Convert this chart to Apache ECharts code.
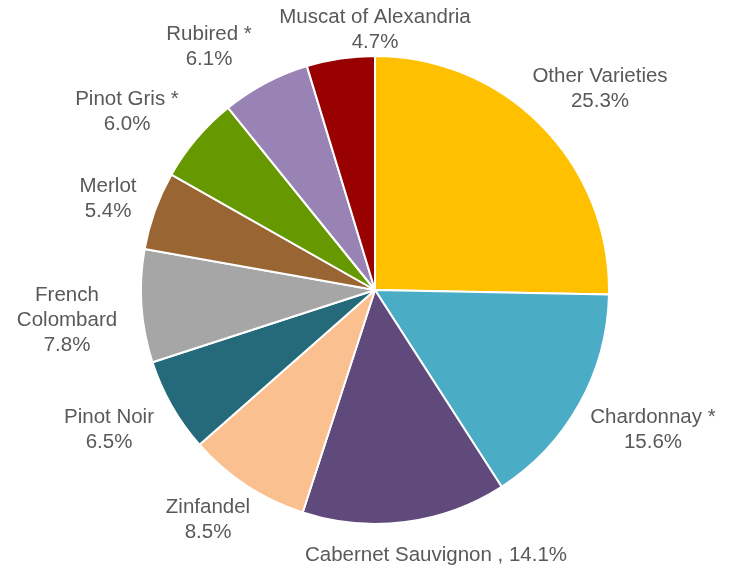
<!DOCTYPE html>
<html><head><meta charset="utf-8">
<script src="https://cdn.jsdelivr.net/npm/echarts@6/dist/echarts.min.js"></script>
<style>html,body{margin:0;padding:0;background:#fff}#c{width:731px;height:569px}</style>
</head><body><div id="c"></div>
<script>
const categories = ["Other Varieties","Chardonnay *","Cabernet Sauvignon","Zinfandel","Pinot Noir","French Colombard","Merlot","Pinot Gris *","Rubired *","Muscat of Alexandria"];
const values = [25.3,15.6,14.1,8.5,6.5,7.8,5.4,6.0,6.1,4.7];
const colors = ["#FFC000","#4BACC6","#604A7B","#FAC090","#256A7B","#A6A6A6","#996633","#669900","#9982B4","#990000"];
// label anchor centres (layout only)
const labelPos = [[600,89],[653,430],[436,555],[208,520],[109,430],[67,320],[108,199],[127,112],[209,47],[375,30]];

const chart = echarts.init(document.getElementById('c'));
chart.setOption({
  animation:false,
  series:[{
    type:'pie',
    center:[375,290],
    radius:234,
    startAngle:90,
    clockwise:true,
    data:categories.map((n,i)=>({name:n,value:values[i],itemStyle:{color:colors[i]}})),
    itemStyle:{borderColor:'#fff',borderWidth:2},
    label:{
      show:true,position:'outside',color:'#595959',fontFamily:'Liberation Sans, Arial, sans-serif',fontSize:20.5,lineHeight:25,align:'center',
      overflow:'none',width:400,
      formatter:p=>{
        const v=p.value.toFixed(1)+'%';
        if(p.name==='Cabernet Sauvignon') return p.name+' , '+v;
        if(p.name==='French Colombard') return 'French\nColombard\n'+v;
        return p.name+'\n'+v;
      }
    },
    labelLine:{show:false},
    labelLayout:p=>({x:labelPos[p.dataIndex][0],y:labelPos[p.dataIndex][1],align:'center',verticalAlign:'middle'})
  }]
});
</script></body></html>
